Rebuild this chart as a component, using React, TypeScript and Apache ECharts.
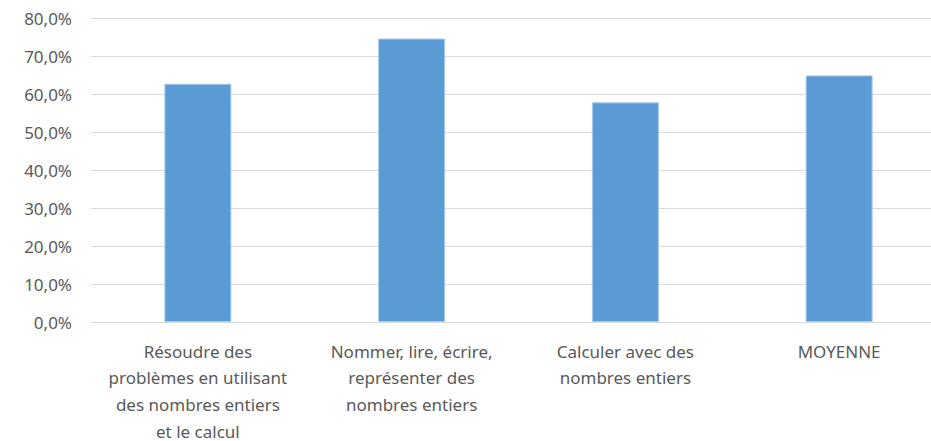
import React, { useEffect, useRef } from "react";
import * as echarts from "echarts";

const categories = [
  "Résoudre des\nproblèmes en utilisant\ndes nombres entiers\net le calcul",
  "Nommer, lire, écrire,\nreprésenter des\nnombres entiers",
  "Calculer avec des\nnombres entiers",
  "MOYENNE",
];
const values = [62.7, 74.6, 57.8, 64.9];
const yMin = 0;
const yMax = 80;
const yInterval = 10;

export default function App() {
  const ref = useRef<HTMLDivElement>(null);
  useEffect(() => {
    if (!ref.current) return;
    const chart = echarts.init(ref.current, null, { renderer: "svg" });
    const font = "'Noto Sans', sans-serif";
    chart.setOption({
      animation: false,
      grid: {
        left: 91,
        right: 0,
        top: 18,
        bottom: 119,
        containLabel: false,
        outerBoundsMode: "none",
      },
      xAxis: {
        type: "category",
        data: categories,
        axisLine: { show: true, lineStyle: { color: "#D9D9D9", width: 1 } },
        axisTick: { show: false },
        axisLabel: {
          color: "#595959",
          fontFamily: font,
          fontSize: 17,
          lineHeight: 26.6,
          margin: 16,
          interval: 0,
          verticalAlign: "top",
        },
      },
      yAxis: {
        type: "value",
        min: yMin,
        max: yMax,
        interval: yInterval,
        axisLine: { show: false },
        axisTick: { show: false },
        splitLine: { lineStyle: { color: "#D9D9D9", width: 1 } },
        axisLabel: {
          color: "#595959",
          fontFamily: font,
          fontSize: 17,
          margin: 19,
          formatter: (v: number) => v.toFixed(1).replace(".", ",") + "%",
        },
      },
      series: [
        {
          type: "bar",
          data: values,
          barWidth: 67,
          itemStyle: { color: "#5B9BD5", borderColor: "#A9C9EA", borderWidth: 1 },
        },
      ],
    });
    return () => chart.dispose();
  }, []);
  return (
    <div style={{ position: "absolute", left: 0, top: 0, width: 931, height: 441, overflow: "hidden" }}>
      <div ref={ref} style={{ width: 946, height: 441 }} />
    </div>
  );
}
